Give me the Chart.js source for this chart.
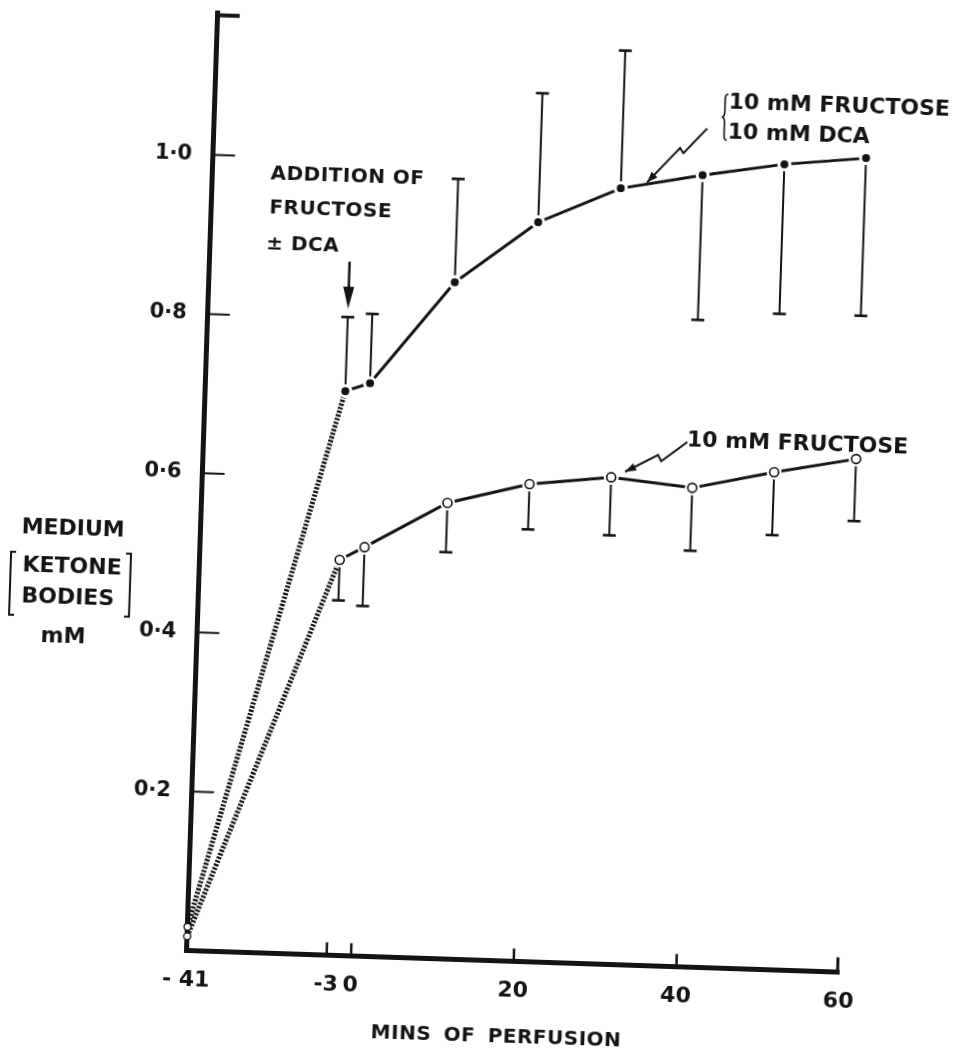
<!DOCTYPE html>
<html>
<head>
<meta charset="utf-8">
<script src="https://cdn.jsdelivr.net/npm/chart.js@4.4.1/dist/chart.umd.min.js"></script>
<style>
  html, body { margin: 0; padding: 0; background: #fff; overflow: hidden; width: 960px; height: 1052px; }
  /* the printed figure sits slightly askew on the page */
  #wrap { position: absolute; left: -40px; top: -30px; width: 1040px; height: 1120px;
          transform-origin: 226.7px 980.7px; transform: rotate(1.9deg); }
  canvas { display: block; }
</style>
</head>
<body>
<div id="wrap"><canvas id="chart" width="1040" height="1120"></canvas></div>
<script>
// Sampling times, min of perfusion (substrates added at -3 min)
const minutes = [-3, 0, 10, 20, 30, 40, 50, 60];

// Medium [ketone bodies] (mM): 10 mM fructose + 10 mM DCA (filled circles)
const fructoseDca          = [0.709, 0.720, 0.850, 0.929, 0.975, 0.995, 1.012, 1.023];
const fructoseDcaBarTop    = [0.802, 0.807, 0.980, 1.091, 1.148, null, null, null];
const fructoseDcaBarBottom = [null, null, null, null, null, 0.813, 0.824, 0.825];

// Medium [ketone bodies] (mM): 10 mM fructose alone (open circles)
const fructose          = [0.497, 0.514, 0.573, 0.600, 0.612, 0.602, 0.625, 0.645];
const fructoseBarBottom = [0.446, 0.440, 0.511, 0.543, 0.539, 0.523, 0.546, 0.567];

// Start of perfusion, joined to the first sample by a dotted line
const startMinute = -41;
const fructoseDcaStart = 0.030;
const fructoseStart = 0.018;

// Axis ticks
const xTickMinutes = [-41, -3, 0, 20, 40, 60];
const xTickLabels  = ['- 41', '-3', '0', '20', '40', '60'];
const yTickValues  = [0.2, 0.4, 0.6, 0.8, 1.0];
const yTickLabels  = ['0·2', '0·4', '0·6', '0·8', '1·0'];

// The pre-perfusion stretch (-41 to -3 min) is drawn compressed on the time axis
const BREAK_MIN = -3;
const START_POS = -20.2;
function axisPos(t) {
  if (t >= BREAK_MIN) return t;
  return BREAK_MIN + (t - BREAK_MIN) * (START_POS - BREAK_MIN) / (startMinute - BREAK_MIN);
}

const INK = '#141414';
const FAMILY = '"DejaVu Sans", "Liberation Sans", sans-serif';

// room reserved for the tick labels of each axis
const Y_LABEL_BAND = 110;
const X_LABEL_BAND = 70;

const pts = (xs, ys) => xs.map((m, i) => ({ x: axisPos(m), y: ys[i] }));

function seg(ctx, x1, y1, x2, y2, w) {
  ctx.lineWidth = w;
  ctx.beginPath(); ctx.moveTo(x1, y1); ctx.lineTo(x2, y2); ctx.stroke();
}
function label(ctx, str, x, y, size, align, spacing, wordSpacing) {
  ctx.font = `bold ${size}px ${FAMILY}`;
  ctx.textAlign = align;
  ctx.textBaseline = 'middle';
  if ('letterSpacing' in ctx) ctx.letterSpacing = (spacing || 0) + 'px';
  if ('wordSpacing' in ctx) ctx.wordSpacing = (wordSpacing || 0) + 'px';
  ctx.fillText(str, x, y);
  if ('letterSpacing' in ctx) ctx.letterSpacing = '0px';
  if ('wordSpacing' in ctx) ctx.wordSpacing = '0px';
}
function arrowHead(ctx, fromX, fromY, tipX, tipY, len, half) {
  const ang = Math.atan2(tipY - fromY, tipX - fromX);
  const bx = tipX - Math.cos(ang) * len, by = tipY - Math.sin(ang) * len;
  const nx = -Math.sin(ang) * half, ny = Math.cos(ang) * half;
  ctx.beginPath();
  ctx.moveTo(tipX, tipY);
  ctx.lineTo(bx + nx, by + ny);
  ctx.lineTo(bx - nx, by - ny);
  ctx.closePath();
  ctx.fill();
}
function zigzagArrow(ctx, P, toXY) {
  const p = P.map(([a, b]) => toXY(a, b));
  ctx.lineWidth = 2;
  ctx.beginPath();
  ctx.moveTo(p[0][0], p[0][1]);
  for (let i = 1; i < p.length; i++) ctx.lineTo(p[i][0], p[i][1]);
  ctx.stroke();
  const n = p.length;
  arrowHead(ctx, p[n - 2][0], p[n - 2][1], p[n - 1][0], p[n - 1][1], 11, 4);
}

// Vertical error bars (one-sided, with a cap)
const errorBars = {
  id: 'errorBars',
  beforeDatasetsDraw(chart) {
    const { ctx, scales: { x, y } } = chart;
    ctx.save();
    ctx.strokeStyle = INK;
    const bar = (m, mean, end) => {
      if (end == null) return;
      const px = x.getPixelForValue(axisPos(m));
      const y0 = y.getPixelForValue(mean), y1 = y.getPixelForValue(end);
      seg(ctx, px, y0, px, y1, 2);
      seg(ctx, px - 6.5, y1, px + 6.5, y1, 2.6);
    };
    minutes.forEach((m, i) => {
      bar(m, fructoseDca[i], fructoseDcaBarTop[i]);
      bar(m, fructoseDca[i], fructoseDcaBarBottom[i]);
      bar(m, fructose[i], fructoseBarBottom[i]);
    });
    ctx.restore();
  }
};

// Inward tick marks, axis ends, labels and annotations
const decorations = {
  id: 'decorations',
  afterDraw(chart) {
    const { ctx, chartArea: { left, right, top, bottom }, scales: { x, y } } = chart;
    const at = (a, b) => [left + a, bottom - b];
    ctx.save();
    ctx.strokeStyle = INK;
    ctx.fillStyle = INK;
    ctx.lineCap = 'butt';

    yTickValues.forEach(v => { const py = y.getPixelForValue(v); seg(ctx, left, py, left + 22, py, 2); });
    xTickMinutes.forEach(m => {
      if (m === startMinute) return;
      const px = x.getPixelForValue(axisPos(m));
      if (m === 60) seg(ctx, px - 1.5, bottom + 2, px - 1.5, bottom - 15, 3);
      else seg(ctx, px, bottom, px, bottom - 13, 2.5);
    });
    seg(ctx, left - 2.5, top + 2, left + 22, top + 2, 4);

    // y-axis title
    label(ctx, 'MEDIUM', ...at(-127.5, 417), 22, 'center');
    label(ctx, 'KETONE', ...at(-177, 379), 22, 'left');
    label(ctx, 'BODIES', ...at(-177, 348), 22, 'left');
    label(ctx, 'mM', ...at(-134, 309), 22, 'center');
    ctx.lineWidth = 2;
    let [bx, by] = at(-188.7, 393);
    ctx.beginPath(); ctx.moveTo(bx + 5, by); ctx.lineTo(bx, by); ctx.lineTo(bx, by + 63); ctx.lineTo(bx + 5, by + 63); ctx.stroke();
    [bx, by] = at(-68.8, 395);
    ctx.beginPath(); ctx.moveTo(bx - 5, by); ctx.lineTo(bx, by); ctx.lineTo(bx, by + 63); ctx.lineTo(bx - 5, by + 63); ctx.stroke();

    // x-axis title
    label(ctx, 'MINS OF PERFUSION', ...at(312, -76), 20, 'center', 0.5, 5);

    // addition of substrates
    label(ctx, 'ADDITION OF', ...at(58, 779), 20, 'left', 0.5);
    label(ctx, 'FRUCTOSE', ...at(58, 745), 20, 'left', 0.5);
    label(ctx, '± DCA', ...at(56, 709), 20, 'left', 0.5);
    const ax = x.getPixelForValue(axisPos(BREAK_MIN));
    const [, ay0] = at(0, 694), [, ay1] = at(0, 647);
    seg(ctx, ax, ay0, ax, ay1 - 18, 2.5);
    arrowHead(ctx, ax, ay0, ax, ay1, 22, 5.5);

    // series labels
    label(ctx, '10 mM FRUCTOSE', ...at(513.5, 865.6), 22, 'left');
    label(ctx, '10 mM DCA', ...at(513.5, 835.2), 22, 'left');
    const [cx, cy] = at(507, 851);
    const h = 23, w = 6;
    ctx.lineWidth = 1.6;
    ctx.beginPath();
    ctx.moveTo(cx + w, cy - h);
    ctx.quadraticCurveTo(cx + w / 2, cy - h, cx + w / 2, cy - h + 5);
    ctx.lineTo(cx + w / 2, cy - 5);
    ctx.quadraticCurveTo(cx + w / 2, cy, cx, cy);
    ctx.quadraticCurveTo(cx + w / 2, cy, cx + w / 2, cy + 5);
    ctx.lineTo(cx + w / 2, cy + h - 5);
    ctx.quadraticCurveTo(cx + w / 2, cy + h, cx + w, cy + h);
    ctx.stroke();
    zigzagArrow(ctx, [[493, 839], [470, 813.5], [466.5, 818.5], [434.5, 783]], at);

    label(ctx, '10 mM FRUCTOSE', ...at(483, 526), 22, 'left');
    zigzagArrow(ctx, [[483.5, 525], [458, 505], [454.7, 511], [422.3, 493.2]], at);

    ctx.restore();
  }
};

const tickFont = size => ({ family: FAMILY, weight: 'bold', size });
const leadIn = {
  borderColor: '#111', borderWidth: 5, borderDash: [2.2, 1.6], borderCapStyle: 'butt',
  pointRadius: [3.5, 0], pointBackgroundColor: '#fff', pointBorderColor: INK, pointBorderWidth: 1.4
};

new Chart(document.getElementById('chart'), {
  type: 'line',
  data: {
    datasets: [
      { // open-circle markers
        data: pts(minutes, fructose), showLine: false, order: 1,
        pointRadius: 4.5, pointBackgroundColor: '#fff', pointBorderColor: INK, pointBorderWidth: 1.6
      },
      { // white halo so the joining line stops short of each open circle
        data: pts(minutes, fructose), showLine: false, order: 2,
        pointRadius: 7.5, pointBackgroundColor: '#fff', pointBorderWidth: 0
      },
      { // fructose + DCA
        data: pts(minutes, fructoseDca), order: 3,
        borderColor: INK, borderWidth: 3,
        pointRadius: 5.5, pointBackgroundColor: INK, pointBorderColor: '#fff', pointBorderWidth: 3
      },
      { // fructose alone
        data: pts(minutes, fructose), order: 4,
        borderColor: INK, borderWidth: 3, pointRadius: 0
      },
      { // perfusion start to fructose + DCA
        data: pts([startMinute, minutes[0]], [fructoseDcaStart, fructoseDca[0]]), order: 5, ...leadIn
      },
      { // perfusion start to fructose alone
        data: pts([startMinute, minutes[0]], [fructoseStart, fructose[0]]), order: 6, ...leadIn
      }
    ]
  },
  options: {
    responsive: false,
    animation: false,
    devicePixelRatio: 1,
    clip: false,
    datasets: { line: { clip: false, tension: 0 } },
    layout: { padding: { left: 226.7 - Y_LABEL_BAND, right: 160.6, top: 42.7, bottom: 139.3 - X_LABEL_BAND } },
    plugins: { legend: { display: false }, tooltip: { enabled: false } },
    scales: {
      x: {
        type: 'linear',
        min: axisPos(startMinute), max: 60,
        afterFit: s => { s.height = X_LABEL_BAND; },
        afterBuildTicks: s => { s.ticks = xTickMinutes.map(m => ({ value: axisPos(m) })); },
        grid: { display: true, drawOnChartArea: false, drawTicks: false },
        border: { display: true, width: 5, color: INK },
        ticks: {
          autoSkip: false, maxRotation: 0, padding: 16, color: INK, font: tickFont(22),
          callback: (v, i) => xTickLabels[i]
        }
      },
      y: {
        min: 0, max: 1.178,
        afterFit: s => { s.width = Y_LABEL_BAND; },
        afterBuildTicks: s => { s.ticks = yTickValues.map(v => ({ value: v })); },
        grid: { display: true, drawOnChartArea: false, drawTicks: false },
        border: { display: true, width: 5, color: INK },
        ticks: {
          autoSkip: false, padding: 21, color: INK, font: tickFont(21),
          callback: (v, i) => yTickLabels[i]
        }
      }
    }
  },
  plugins: [errorBars, decorations]
});
</script>
</body>
</html>
